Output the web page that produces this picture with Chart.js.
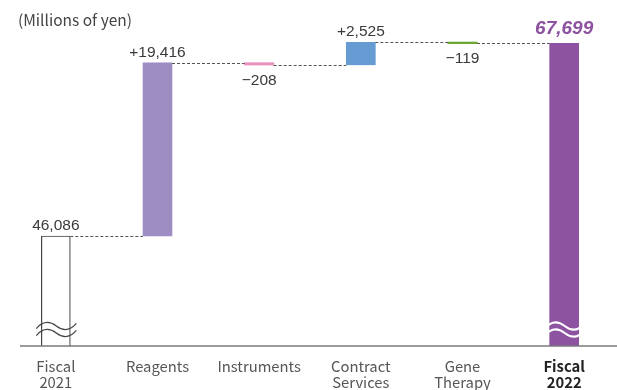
<!DOCTYPE html>
<html>
<head>
<meta charset="utf-8">
<script src="https://cdn.jsdelivr.net/npm/chart.js@4/dist/chart.umd.min.js"></script>
<style>
  html, body { margin: 0; padding: 0; background: #fff; }
  #wrap { position: relative; width: 617px; height: 390px; }
</style>
</head>
<body>
<div id="wrap"><canvas id="chart" width="617" height="390"></canvas></div>
<script>
// Net sales bridge, fiscal 2021 -> fiscal 2022 (millions of yen)
const categories = [['Fiscal', '2021'], 'Reagents', 'Instruments', ['Contract', 'Services'], ['Gene', 'Therapy'], ['Fiscal', '2022']];
const openingTotal = 46086;
const segmentChanges = [19416, -208, 2525, -119];
const closingTotal = 67699;

// Visible window of the broken value axis
const axisMin = 33744;
const axisMax = 69199;

const fillColors = ['#ffffff', '#9e8dc3', '#e891bf', '#679bd3', '#6aa62e', '#8d52a0'];

// Floating segments for the bridge
const running = [openingTotal];
const barData = [openingTotal];
segmentChanges.forEach(function (d) {
  const start = running[running.length - 1];
  const end = start + d;
  running.push(end);
  barData.push([start, end]);
});
barData.push(closingTotal);
const levels = running.slice(); // level each connector leaves from

const labelTexts = [openingTotal.toLocaleString('en-US')]
  .concat(segmentChanges.map(function (d) { return (d >= 0 ? '+' : '\u2212') + Math.abs(d).toLocaleString('en-US'); }))
  .concat([closingTotal.toLocaleString('en-US')]);

const numFont = '"Liberation Sans", Arial, sans-serif';
const jpFont = '"Noto Sans CJK JP", "Noto Sans", sans-serif';

function wave(ctx, x0, x1, y, amp) {
  const w = x1 - x0;
  ctx.beginPath();
  ctx.moveTo(x0, y + amp * 0.7);
  ctx.bezierCurveTo(x0 + w * 0.17, y - amp * 1.5, x0 + w * 0.35, y - amp * 1.3, x0 + w * 0.5, y);
  ctx.bezierCurveTo(x0 + w * 0.65, y + amp * 1.3, x0 + w * 0.83, y + amp * 1.5, x1, y - amp * 0.7);
  ctx.stroke();
}

const bridgeDecor = {
  id: 'bridgeDecor',
  beforeDraw(chart) {
    const ctx = chart.ctx;
    ctx.save();
    ctx.font = '15.5px ' + jpFont;
    ctx.fillStyle = '#444';
    ctx.textBaseline = 'middle';
    ctx.textAlign = 'left';
    ctx.fillText('(Millions of yen)', 18, 20);
    ctx.restore();
  },
  afterDatasetsDraw(chart) {
    const ctx = chart.ctx;
    const meta = chart.getDatasetMeta(0);
    const y = chart.scales.y;
    const area = chart.chartArea;
    ctx.save();

    // dotted connectors between consecutive bars
    ctx.strokeStyle = '#555';
    ctx.lineWidth = 1;
    ctx.setLineDash([3, 2]);
    for (let i = 0; i < meta.data.length - 1; i++) {
      const a = meta.data[i], b = meta.data[i + 1];
      const py = Math.round(y.getPixelForValue(levels[i])) + 0.5;
      ctx.beginPath();
      ctx.moveTo(a.x + a.width / 2, py);
      ctx.lineTo(b.x - b.width / 2, py);
      ctx.stroke();
    }
    ctx.setLineDash([]);

    // baseline
    ctx.strokeStyle = '#7a7a7a';
    ctx.lineWidth = 1.5;
    ctx.beginPath();
    ctx.moveTo(20, area.bottom);
    ctx.lineTo(chart.width, area.bottom);
    ctx.stroke();

    // axis break marks on the two total bars
    [0, meta.data.length - 1].forEach(function (i, k) {
      const bar = meta.data[i];
      const x0 = bar.x - bar.width / 2 - 5;
      const x1 = bar.x + bar.width / 2 + 6;
      ctx.strokeStyle = k === 0 ? '#444' : '#ffffff';
      ctx.lineWidth = k === 0 ? 1.2 : 2;
      wave(ctx, x0, x1, area.bottom - 20, 3.6);
      wave(ctx, x0, x1, area.bottom - 13, 3.6);
    });

    // value labels
    ctx.textAlign = 'center';
    meta.data.forEach(function (bar, i) {
      const isLast = i === meta.data.length - 1;
      const change = i > 0 && !isLast ? segmentChanges[i - 1] : 1;
      const top = Math.min(bar.y, bar.base);
      const bottom = Math.max(bar.y, bar.base);
      if (isLast) {
        ctx.font = 'italic bold 19px ' + numFont;
        ctx.fillStyle = '#8d52a0';
        ctx.textBaseline = 'alphabetic';
        ctx.fillText(labelTexts[i], bar.x, top - 9);
      } else if (change >= 0) {
        ctx.font = '15.5px ' + numFont;
        ctx.fillStyle = '#3a3a3a';
        ctx.textBaseline = 'alphabetic';
        ctx.fillText(labelTexts[i], bar.x, top - 6);
      } else {
        ctx.font = '15.5px ' + numFont;
        ctx.fillStyle = '#3a3a3a';
        ctx.textBaseline = 'top';
        ctx.fillText(labelTexts[i], bar.x, bottom + 8);
      }
    });
    ctx.restore();
  }
};

new Chart(document.getElementById('chart'), {
  type: 'bar',
  data: {
    labels: categories,
    datasets: [{
      data: barData,
      backgroundColor: fillColors,
      borderColor: ['#444', 'transparent', 'transparent', 'transparent', 'transparent', 'transparent'],
      borderWidth: [1.2, 0, 0, 0, 0, 0],
      borderSkipped: 'start',
      inflateAmount: [0.33, 0.33, 0.6, 0.33, 0.6, 0.33],
      categoryPercentage: 1,
      barPercentage: 0.285
    }]
  },
  options: {
    responsive: false,
    animation: false,
    layout: { padding: { top: 30, left: 5, right: 2, bottom: 0 } },
    plugins: { legend: { display: false }, tooltip: { enabled: false } },
    scales: {
      x: {
        grid: { display: false, drawTicks: false },
        border: { display: false },
        afterFit: function (scale) { scale.height = 44; },
        ticks: {
          padding: 12,
          maxRotation: 0,
          autoSkip: false,
          color: function (c) { return c.index === 5 ? '#222' : '#555'; },
          font: function (c) {
            return { family: jpFont, size: 14.8, weight: c.index === 5 ? 'bold' : 'normal', lineHeight: 1.08 };
          }
        }
      },
      y: {
        display: false,
        min: axisMin,
        max: axisMax
      }
    }
  },
  plugins: [bridgeDecor]
});
</script>
</body>
</html>
